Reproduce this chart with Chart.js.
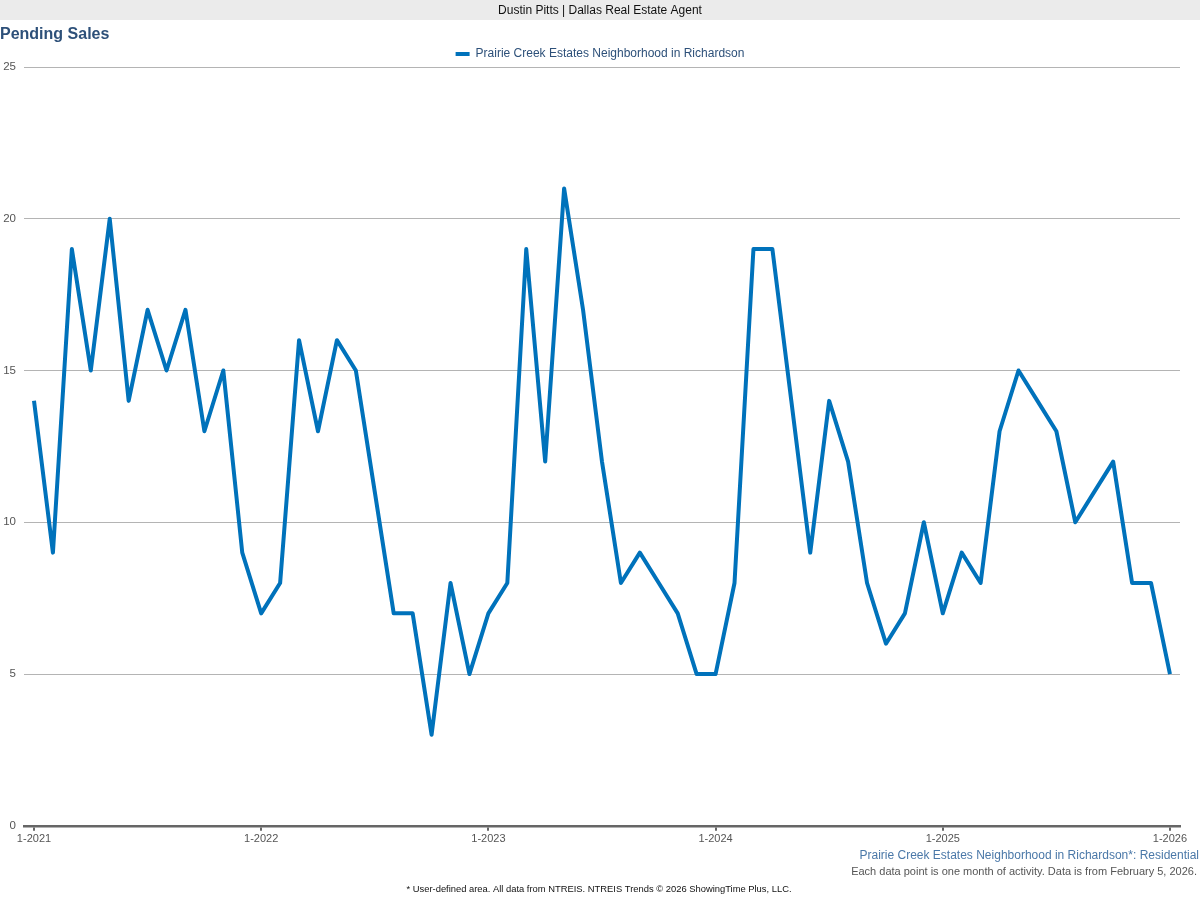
<!DOCTYPE html>
<html>
<head>
<meta charset="utf-8">
<script src="https://cdn.jsdelivr.net/npm/chart.js@4.4.1/dist/chart.umd.min.js"></script>
<style>
  html, body { margin: 0; padding: 0; background: #fff; }
  #wrap { width: 1200px; height: 900px; position: relative; }
</style>
</head>
<body>
<div id="wrap"><canvas id="chart-pending"></canvas></div>
<script>
const months = [
    "1-2021", "2-2021", "3-2021", "4-2021", "5-2021", "6-2021", "7-2021", "8-2021", "9-2021", "10-2021", "11-2021", "12-2021",
    "1-2022", "2-2022", "3-2022", "4-2022", "5-2022", "6-2022", "7-2022", "8-2022", "9-2022", "10-2022", "11-2022", "12-2022",
    "1-2023", "2-2023", "3-2023", "4-2023", "5-2023", "6-2023", "7-2023", "8-2023", "9-2023", "10-2023", "11-2023", "12-2023",
    "1-2024", "2-2024", "3-2024", "4-2024", "5-2024", "6-2024", "7-2024", "8-2024", "9-2024", "10-2024", "11-2024", "12-2024",
    "1-2025", "2-2025", "3-2025", "4-2025", "5-2025", "6-2025", "7-2025", "8-2025", "9-2025", "10-2025", "11-2025", "12-2025",
    "1-2026"
];
const pendingSales = [
    14, 9, 19, 15, 20, 14, 17, 15, 17, 13, 15, 9,
    7, 8, 16, 13, 16, 15, 11, 7, 7, 3, 8, 5,
    7, 8, 19, 12, 21, 17, 12, 8, 9, 8, 7, 5,
    5, 8, 19, 19, 14, 9, 14, 12, 8, 6, 7, 10,
    7, 9, 8, 13, 15, 14, 13, 10, 11, 12, 8, 8,
    5
];
const yearLabels = ["1-2021", "1-2022", "1-2023", "1-2024", "1-2025", "1-2026"];
const seriesName = "Prairie Creek Estates Neighborhood in Richardson";

const FONT = "'Liberation Sans', Arial, sans-serif";
Chart.defaults.font.family = FONT;

// header band, title and the notes under the chart
const pageText = {
    id: "pageText",
    beforeDraw(chart) {
        const c = chart.ctx;
        c.save();
        c.fillStyle = "#ebebeb";
        c.fillRect(0, 0, 1200, 20);
        c.fillStyle = "#111";
        c.font = "12px " + FONT;
        c.textAlign = "center";
        c.textBaseline = "middle";
        c.fillText("Dustin Pitts | Dallas Real Estate Agent", 600, 10.5);

        c.fillStyle = "#2d5079";
        c.font = "bold 16px " + FONT;
        c.textAlign = "left";
        c.fillText("Pending Sales", 0, 35);

        c.textAlign = "right";
        c.fillStyle = "#4a78a8";
        c.font = "12px " + FONT;
        c.fillText(seriesName + "*: Residential", 1199, 855.5);
        c.fillStyle = "#555";
        c.font = "11px " + FONT;
        c.fillText("Each data point is one month of activity. Data is from February 5, 2026.", 1197, 871.5);

        c.textAlign = "center";
        c.fillStyle = "#111";
        c.font = "9.4px " + FONT;
        c.fillText("* User-defined area. All data from NTREIS. NTREIS Trends \u00a9 2026 ShowingTime Plus, LLC.", 599, 889);
        c.restore();
    }
};

new Chart(document.getElementById("chart-pending"), {
    type: "line",
    data: {
        datasets: [{
            label: seriesName,
            data: pendingSales.map((v, i) => ({ x: i, y: v, m: months[i] })),
            borderColor: "#0072bb",
            backgroundColor: "#0072bb",
            borderWidth: 4,
            pointRadius: 0,
            tension: 0,
            borderJoinStyle: "round"
        }]
    },
    options: {
        responsive: true,
        maintainAspectRatio: false,
        animation: false,
        layout: { padding: { top: 41, right: 0, bottom: 52, left: 0 } },
        plugins: {
            legend: {
                position: "top",
                maxHeight: 26,
                labels: {
                    color: "#2d5079",
                    font: { size: 12 },
                    boxWidth: 14,
                    boxHeight: 4,
                    padding: 7,
                    generateLabels: chart => Chart.defaults.plugins.legend.labels.generateLabels(chart)
                        .map(l => ({ ...l, lineWidth: 0 }))
                }
            },
            tooltip: { enabled: false }
        },
        scales: {
            x: {
                type: "linear",
                min: -0.528,
                max: 60.53,
                afterBuildTicks: scale => {
                    scale.ticks = yearLabels.map((_, i) => ({ value: i * 12 }));
                },
                ticks: {
                    color: "#555",
                    font: { size: 11 },
                    padding: 2,
                    maxRotation: 0,
                    callback: v => yearLabels[v / 12]
                },
                grid: { drawOnChartArea: false, drawTicks: true, tickLength: 5, color: "#666", lineWidth: 2 },
                border: { color: "#666", width: 2.5 }
            },
            y: {
                min: 0,
                max: 25,
                afterFit: scale => { scale.width = 24; },
                ticks: { stepSize: 5, color: "#555", font: { size: 11.5 }, padding: 8 },
                grid: { color: "#b4b4b4", drawTicks: false },
                border: { display: false }
            },
            yRight: {
                position: "right",
                afterFit: scale => { scale.width = 20; },
                ticks: { display: false },
                grid: { display: false },
                border: { display: false }
            }
        }
    },
    plugins: [pageText]
});
</script>
</body>
</html>
